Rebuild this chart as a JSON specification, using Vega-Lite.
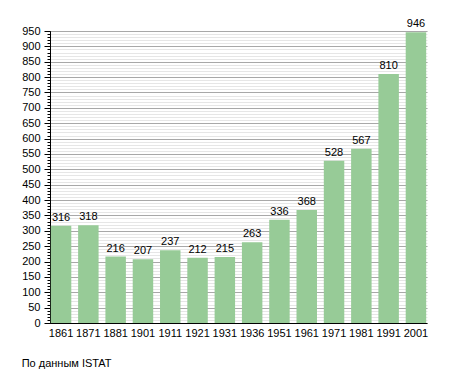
{
  "$schema": "https://vega.github.io/schema/vega-lite/v6.json",
  "autosize": "none",
  "width": 377,
  "height": 292,
  "padding": {"left": 50, "top": 31, "right": 28, "bottom": 50},
  "background": "white",
  "title": {
    "text": "По данным ISTAT",
    "orient": "bottom",
    "anchor": "start",
    "frame": "bounds",
    "dx": 0,
    "offset": 20,
    "fontSize": 11,
    "font": "Liberation Sans",
    "fontWeight": "normal",
    "color": "#000"
  },
  "data": {
    "values": [
      {"year": "1861", "pop": 316},
      {"year": "1871", "pop": 318},
      {"year": "1881", "pop": 216},
      {"year": "1901", "pop": 207},
      {"year": "1911", "pop": 237},
      {"year": "1921", "pop": 212},
      {"year": "1931", "pop": 215},
      {"year": "1936", "pop": 263},
      {"year": "1951", "pop": 336},
      {"year": "1961", "pop": 368},
      {"year": "1971", "pop": 528},
      {"year": "1981", "pop": 567},
      {"year": "1991", "pop": 810},
      {"year": "2001", "pop": 946}
    ]
  },
  "encoding": {
    "x": {
      "field": "year",
      "type": "ordinal",
      "sort": null,
      "scale": {"paddingInner": 0.25, "paddingOuter": 0.03},
      "axis": {
        "title": null,
        "labelAngle": 0,
        "ticks": false,
        "labelPadding": 4,
        "domainColor": "#000",
        "labelFont": "Liberation Sans",
        "labelFontSize": 11,
        "labelColor": "#000"
      }
    }
  },
  "layer": [
    {
      "mark": {"type": "bar", "color": "#97cb97"},
      "encoding": {
        "y": {
          "field": "pop",
          "type": "quantitative",
          "scale": {"domain": [0, 950], "nice": false},
          "axis": {
            "title": null,
            "values": [0,10,20,30,40,50,60,70,80,90,100,110,120,130,140,150,160,170,180,190,200,210,220,230,240,250,260,270,280,290,300,310,320,330,340,350,360,370,380,390,400,410,420,430,440,450,460,470,480,490,500,510,520,530,540,550,560,570,580,590,600,610,620,630,640,650,660,670,680,690,700,710,720,730,740,750,760,770,780,790,800,810,820,830,840,850,860,870,880,890,900,910,920,930,940,950],
            "labels": false,
            "domain": false,
            "tickSize": 3,
            "tickColor": "#000",
            "grid": true,
            "gridColor": "#e6e6e6",
            "orient": "left"
          }
        }
      }
    },
    {
      "mark": {"type": "text", "baseline": "bottom", "dy": -3, "font": "Liberation Sans", "fontSize": 11, "color": "#000"},
      "encoding": {
        "y": {
          "field": "pop",
          "type": "quantitative",
          "scale": {"domain": [0, 950], "nice": false},
          "axis": {
            "title": null,
            "values": [0,50,100,150,200,250,300,350,400,450,500,550,600,650,700,750,800,850,900,950],
            "tickSize": 6,
            "tickColor": "#000",
            "domainColor": "#000",
            "labelPadding": 4,
            "labelFont": "Liberation Sans",
            "labelFontSize": 11,
            "labelColor": "#000",
            "grid": true,
            "gridColor": "#a8a8a8",
            "orient": "left"
          }
        },
        "text": {"field": "pop", "type": "quantitative"}
      }
    }
  ],
  "resolve": {"axis": {"y": "independent"}},
  "config": {"view": {"stroke": null}}
}
